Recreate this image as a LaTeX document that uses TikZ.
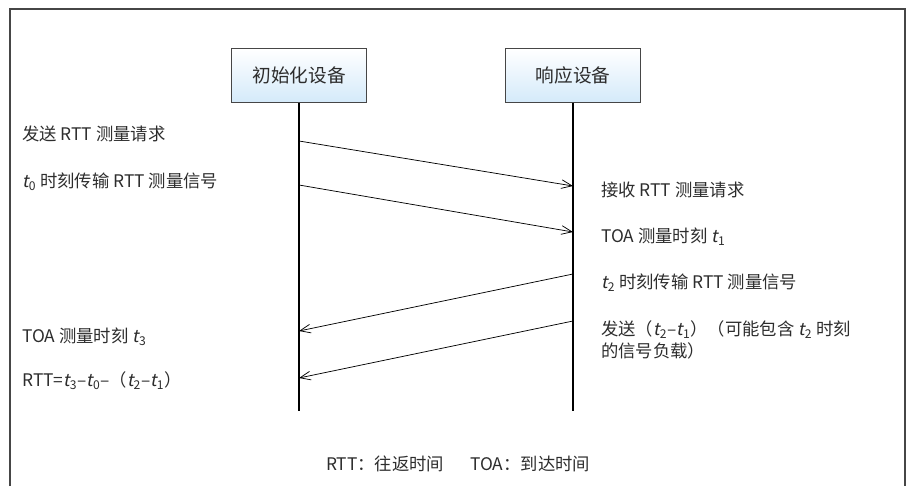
\documentclass[tikz,border=0pt]{standalone}
\usepackage{fontspec}
\setmainfont{Noto Sans CJK SC}[AutoFakeSlant=0.2]
\usepackage{tikz}
\usetikzlibrary{arrows.meta}
\newcommand{\xa}{299}
\newcommand{\xb}{573}
\newcommand{\ti}[1]{\textit{t}\textsubscript{#1}}
\definecolor{bleuboite}{RGB}{212,234,250}
\definecolor{grisbord}{RGB}{70,70,70}
\definecolor{gristexte}{RGB}{45,45,45}
\tikzstyle{cadre}=[line width=0.9pt, grisbord]
\tikzstyle{boite}=[draw=grisbord, line width=0.6pt, top color=white, bottom color=bleuboite, minimum width=101pt, minimum height=40pt, font=\fontsize{14}{16}\selectfont, text=gristexte]
\tikzstyle{vie}=[line width=0.9pt]
\tikzstyle{fleche}=[line width=0.55pt, -{Straight Barb[length=8pt,width=6.5pt]}]
\tikzstyle{etiq}=[anchor=west, inner sep=0pt, font=\fontsize{13}{17}\selectfont, text=gristexte, align=left]

\begin{document}
\begin{tikzpicture}[x=0.75pt, y=-0.75pt]
\useasboundingbox (0,0) rectangle (912,486);

\draw[cadre] (10,486) -- (10,9) -- (905,9) -- (905,486);

\node[boite] (init) at (\xa,75.5) {初始化设备};
\node[boite] (resp) at (\xb,75.5) {响应设备};

\coordinate (finA) at (\xa,411);
\coordinate (finB) at (\xb,411);
\draw[vie] (init.south) -- (finA);
\draw[vie] (resp.south) -- (finB);

\foreach \ya/\yb [count=\i] in {141/186,185/232}{
\coordinate (depA\i) at (\xa,\ya);
\coordinate (arrB\i) at (\xb,\yb);
\draw[fleche] (depA\i) -- (arrB\i);
}
\foreach \yb/\ya [count=\i] in {274/331,321/378}{
\coordinate (depB\i) at (\xb,\yb);
\coordinate (arrA\i) at (\xa,\ya);
\draw[fleche] (depB\i) -- (arrA\i);
}

\node[etiq] (g1) at (22,134) {发送 RTT 测量请求};
\node[etiq] (g2) at (22,182) {\ti{0} 时刻传输 RTT 测量信号};
\node[etiq] (g3) at (22,337) {TOA 测量时刻 \ti{3}};
\node[etiq] (g4) at (22,381) {RTT=\ti{3}–\ti{0}–（\ti{2}–\ti{1}）};

\node[etiq] (d1) at (601,190) {接收 RTT 测量请求};
\node[etiq] (d2) at (601,237) {TOA 测量时刻 \ti{1}};
\node[etiq] (d3) at (601,283) {\ti{2} 时刻传输 RTT 测量信号};
\node[etiq] (d4) at (601,340) {发送（\ti{2}–\ti{1}）（可能包含 \ti{2} 时刻\\的信号负载）};

\node[etiq, anchor=center] (legende) at (458,464) {RTT：往返时间\hspace{1.5em}TOA：到达时间};

\end{tikzpicture}
\end{document}
